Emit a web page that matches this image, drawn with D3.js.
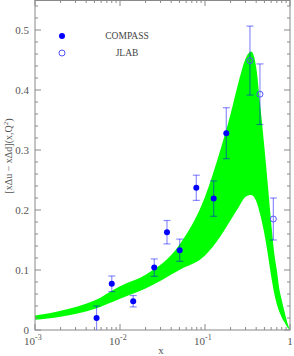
<!DOCTYPE html>
<html><head><meta charset="utf-8">
<script src="https://cdn.jsdelivr.net/npm/d3@7"></script>
<style>body{margin:0;background:#fff}svg{display:block}</style>
</head><body>
<svg id="c" width="294" height="356"></svg>
<script>
// ---- data ----
const bandX     = [0.001,0.002,0.005,0.01,0.02,0.05,0.1,0.15,0.2,0.25,0.3,0.35,0.4,0.45,0.5,0.55,0.6,0.65,0.7,0.75,0.8,0.85,0.9,0.95,1.0];
const bandUpper = [0.024,0.032,0.049,0.073,0.092,0.142,0.222,0.298,0.36,0.415,0.452,0.464,0.438,0.37,0.304,0.24,0.18,0.13,0.10,0.068,0.05,0.034,0.02,0.008,0.0];
const bandLower = [0.017,0.022,0.035,0.052,0.069,0.100,0.124,0.155,0.183,0.205,0.222,0.225,0.215,0.19,0.16,0.125,0.09,0.062,0.043,0.03,0.021,0.014,0.008,0.003,0.0];

const compassX   = [0.0053,0.0080,0.0143,0.0253,0.0357,0.0504,0.079,0.1265,0.178];
const compassY   = [0.020,0.077,0.048,0.104,0.163,0.133,0.237,0.219,0.328];
const compassErr = [0.020,0.013,0.0095,0.0145,0.0195,0.0185,0.021,0.0295,0.0425];

const jlabX   = [0.338,0.443,0.637];
const jlabY   = [0.449,0.393,0.185];
const jlabErr = [0.0575,0.0505,0.035];

const yTickVals = [0,0.1,0.2,0.3,0.4,0.5];
const yTickLabels = ["0","0.1","0.2","0.3","0.4","0.5"];
const xTickVals = [0.001,0.01,0.1,1];
const xTickExp = ["-3","-2","-1",""];
const legendLabels = ["COMPASS","JLAB"];

// ---- layout ----
const svg = d3.select("#c");
const L=35, R=290, T=0, B=330;
const x = d3.scaleLog().domain([0.001,1]).range([L,R]);
const y = d3.scaleLinear().domain([0,0.55]).range([B,T]);
const axisCol = "#8a8a8a", textCol="#555";

// band
const band = bandX.map((v,i)=>({x:v,u:bandUpper[i],l:bandLower[i]}));
svg.append("path").datum(band)
  .attr("d", d3.area().x(d=>x(d.x)).y0(d=>y(d.l)).y1(d=>y(d.u)).curve(d3.curveMonotoneX))
  .attr("fill","#00ff00");

// frame
svg.append("rect").attr("x",L).attr("y",T+0.5).attr("width",R-L).attr("height",B-T-0.5)
  .attr("fill","none").attr("stroke",axisCol).attr("stroke-width",1);

// ticks
const g = svg.append("g").attr("stroke",axisCol).attr("stroke-width",1);
const minorX=[];
for(let e=-3;e<0;e++) for(let k=2;k<=9;k++) minorX.push(k*Math.pow(10,e));
minorX.forEach(v=>{
  g.append("line").attr("x1",x(v)).attr("x2",x(v)).attr("y1",B).attr("y2",B-3);
  g.append("line").attr("x1",x(v)).attr("x2",x(v)).attr("y1",T).attr("y2",T+3);
});
xTickVals.forEach(v=>{
  g.append("line").attr("x1",x(v)).attr("x2",x(v)).attr("y1",B).attr("y2",B-6);
  g.append("line").attr("x1",x(v)).attr("x2",x(v)).attr("y1",T).attr("y2",T+6);
});
d3.range(0,0.551,0.02).forEach(v=>{
  const major = Math.abs(v*10-Math.round(v*10))<1e-6;
  const len = major?6:3;
  g.append("line").attr("x1",L).attr("x2",L+len).attr("y1",y(v)).attr("y2",y(v));
  g.append("line").attr("x1",R).attr("x2",R-len).attr("y1",y(v)).attr("y2",y(v));
});

// tick labels
const font = "'Liberation Serif','DejaVu Serif',serif";
yTickVals.forEach((v,i)=>{
  svg.append("text").attr("x",29).attr("y",y(v)+4).attr("text-anchor","end")
    .attr("font-family",font).attr("font-size",11).attr("fill",textCol).text(yTickLabels[i]);
});
xTickVals.forEach((v,i)=>{
  const t = svg.append("text").attr("y",345).attr("font-family",font).attr("font-size",11).attr("fill",textCol);
  if(xTickExp[i]===""){
    t.attr("x",x(v)).attr("text-anchor","middle").text("1");
  } else {
    t.attr("x",x(v)-11).append("tspan").text("10");
    t.append("tspan").attr("dy",-5).attr("font-size",8).text(xTickExp[i]);
  }
});

// axis titles
svg.append("text").attr("x",161).attr("y",354).attr("text-anchor","middle")
  .attr("font-family",font).attr("font-size",11).attr("fill",textCol).text("x");
const yt = svg.append("text").attr("transform","translate(12,156) rotate(-90)").attr("text-anchor","middle")
  .attr("font-family",font).attr("font-size",10).attr("fill",textCol);
yt.append("tspan").text("[xΔu \u2212 xΔd](x,Q");
yt.append("tspan").attr("dy",-4).attr("font-size",7).text("2");
yt.append("tspan").attr("dy",4).text(")");

// error bars
function errBars(xs,ys,es){
  const eg = svg.append("g").attr("stroke","#0000ff").attr("stroke-opacity",0.45).attr("stroke-width",1.2);
  xs.forEach((v,i)=>{
    const px=x(v), hi=y(ys[i]+es[i]), lo=y(Math.max(0,ys[i]-es[i]));
    eg.append("line").attr("x1",px).attr("x2",px).attr("y1",hi).attr("y2",lo);
    eg.append("line").attr("x1",px-3.5).attr("x2",px+3.5).attr("y1",hi).attr("y2",hi);
    if(ys[i]-es[i]>0) eg.append("line").attr("x1",px-3.5).attr("x2",px+3.5).attr("y1",lo).attr("y2",lo);
  });
}
errBars(compassX,compassY,compassErr);
errBars(jlabX,jlabY,jlabErr);

compassX.forEach((v,i)=>{
  svg.append("circle").attr("cx",x(v)).attr("cy",y(compassY[i])).attr("r",3).attr("fill","#0000ff");
});
jlabX.forEach((v,i)=>{
  svg.append("circle").attr("cx",x(v)).attr("cy",y(jlabY[i])).attr("r",3).attr("fill","none")
    .attr("stroke","#5555ff").attr("stroke-width",1);
});

// legend
svg.append("circle").attr("cx",62).attr("cy",36).attr("r",3).attr("fill","#0000ff");
svg.append("circle").attr("cx",62).attr("cy",53).attr("r",3).attr("fill","none").attr("stroke","#5555ff");
legendLabels.forEach((s,i)=>{
  svg.append("text").attr("x",127).attr("y",39+i*17).attr("text-anchor","middle")
    .attr("font-family",font).attr("font-size",9.5).attr("fill","#444").text(s);
});
</script>
</body></html>
